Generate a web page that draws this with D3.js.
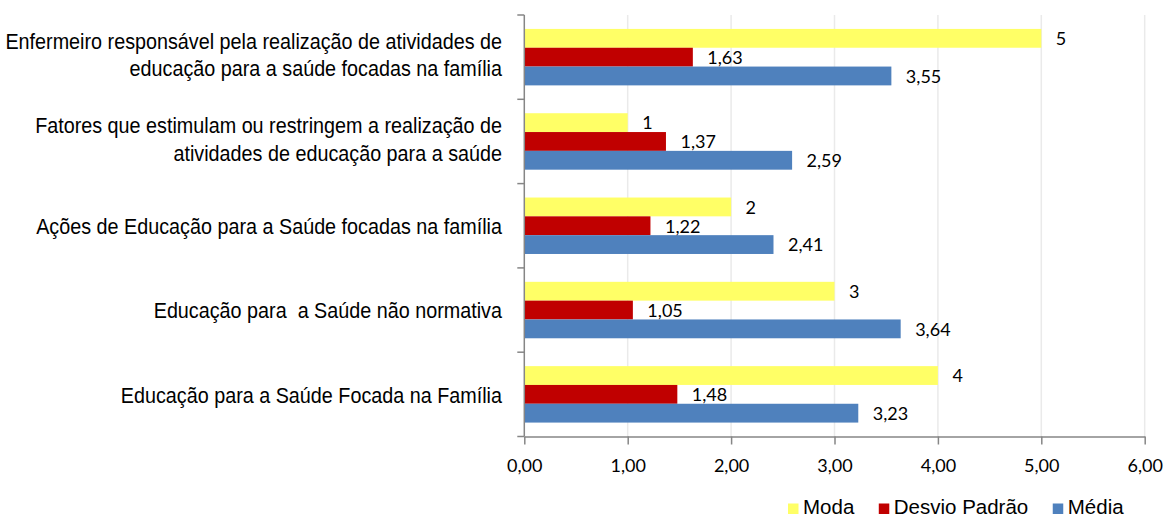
<!DOCTYPE html>
<html>
<head>
<meta charset="utf-8">
<script src="https://cdn.jsdelivr.net/npm/d3@7"></script>
<style>
  html, body { margin: 0; padding: 0; background: #ffffff; }
  svg { display: block; }
</style>
</head>
<body>
<svg id="chart" width="1166" height="519"></svg>
<script>
// ---- data ----
const categories = [
  ["Enfermeiro responsável pela realização de atividades de", "educação para a saúde focadas na família"],
  ["Fatores que estimulam ou restringem a realização de", "atividades de educação para a saúde"],
  ["Ações de Educação para a Saúde focadas na família"],
  ["Educação para  a Saúde não normativa"],
  ["Educação para a Saúde Focada na Família"]
];
const seriesNames = ["Moda", "Desvio Padrão", "Média"];
const moda = [5, 1, 2, 3, 4];
const desvioPadrao = [1.63, 1.37, 1.22, 1.05, 1.48];
const media = [3.55, 2.59, 2.41, 3.64, 3.23];
const xTicks = [0, 1, 2, 3, 4, 5, 6];
const colors = ["#FFFF66", "#C00000", "#4F81BD"];

const seriesValues = [moda, desvioPadrao, media];
const locale = d3.formatLocale({decimal: ",", thousands: ".", grouping: [3], currency: ["", ""]});
const fmt2 = locale.format(".2f");
const labelFormats = [d => String(d), fmt2, fmt2];

const svg = d3.select("#chart");
const x0 = 524.3, x1 = 1144.7, yTop = 15, yBot = 436.5;

const x = d3.scaleLinear().domain([0, 6]).range([x0, x1]);
const catIdx = categories.map((c, i) => i);
const y = d3.scaleBand().domain(catIdx).range([yTop, yBot]).paddingInner(0).paddingOuter(0);
const ys = d3.scaleBand().domain(seriesNames).range([0, y.bandwidth()]).paddingInner(0).paddingOuter(0.74);

// gridlines
svg.append("g").selectAll("line").data(xTicks.filter(t => t > 0)).join("line")
  .attr("x1", d => x(d)).attr("x2", d => x(d))
  .attr("y1", yTop).attr("y2", yBot)
  .attr("stroke", "#EAEAEA").attr("stroke-width", 1.5);

// bars
const groups = svg.append("g").selectAll("g").data(catIdx).join("g")
  .attr("transform", i => `translate(0,${y(i)})`);
seriesNames.forEach((s, si) => {
  groups.append("rect")
    .attr("x", x(0))
    .attr("y", ys(s))
    .attr("width", i => x(seriesValues[si][i]) - x(0))
    .attr("height", ys.bandwidth())
    .attr("fill", colors[si]);
});

// data labels
seriesNames.forEach((s, si) => {
  groups.append("text")
    .attr("x", i => x(seriesValues[si][i]) + 14.5)
    .attr("y", ys(s) + ys.bandwidth() / 2 + 6.8)
    .attr("font-family", "Lato, 'Open Sans', sans-serif")
    .attr("font-size", 18)
    .attr("fill", "#000")
    .text(i => labelFormats[si](seriesValues[si][i]));
});

// x axis
const xAxis = d3.axisBottom(x).tickValues(xTicks).tickFormat(fmt2).tickSize(8).tickSizeOuter(0);
const gx = svg.append("g").attr("transform", `translate(0,${yBot})`).call(xAxis);
gx.select(".domain").attr("stroke", "#868686").attr("stroke-width", 1.5);
gx.selectAll(".tick line").attr("stroke", "#868686").attr("stroke-width", 1.5);
gx.selectAll(".tick text")
  .attr("y", 0).attr("dy", null)
  .attr("transform", "translate(0,35.2)")
  .attr("font-family", "Lato, 'Open Sans', sans-serif")
  .attr("font-size", 18).attr("fill", "#000");

// y axis line + ticks at category boundaries
const boundaries = catIdx.map(i => y(i)).concat([yBot]);
svg.append("line").attr("x1", x0).attr("x2", x0).attr("y1", yTop).attr("y2", yBot)
  .attr("stroke", "#868686").attr("stroke-width", 1.5);
svg.append("g").selectAll("line").data(boundaries).join("line")
  .attr("x1", x0 - 7).attr("x2", x0).attr("y1", d => d).attr("y2", d => d)
  .attr("stroke", "#868686").attr("stroke-width", 1.5);

// category labels
const labelG = svg.append("g");
catIdx.forEach(i => {
  const lines = categories[i];
  const c = y(i) + y.bandwidth() / 2;
  const baselines = lines.length === 1 ? [c + 8.3] : [c - 8.5, c + 19.2];
  lines.forEach((ln, li) => {
    labelG.append("text")
      .attr("transform", `translate(502,${baselines[li]}) scale(0.92,1)`)
      .attr("text-anchor", "end")
      .attr("font-family", "'Liberation Sans', Arial, sans-serif")
      .attr("font-size", 21.5)
      .attr("fill", "#000")
      .style("white-space", "pre")
      .text(ln);
  });
});

// legend
const leg = svg.append("g");
let lx = 788;
seriesNames.forEach((s, si) => {
  leg.append("rect").attr("x", lx).attr("y", 503.5).attr("width", 10.5).attr("height", 10.5)
    .attr("fill", colors[si]);
  const t = leg.append("text").attr("x", lx + 15).attr("y", 514)
    .attr("font-family", "'Liberation Sans', Arial, sans-serif")
    .attr("font-size", 20.5).attr("fill", "#000").text(s);
  lx = lx + 15 + t.node().getComputedTextLength() + 24.5;
});
</script>
</body>
</html>
